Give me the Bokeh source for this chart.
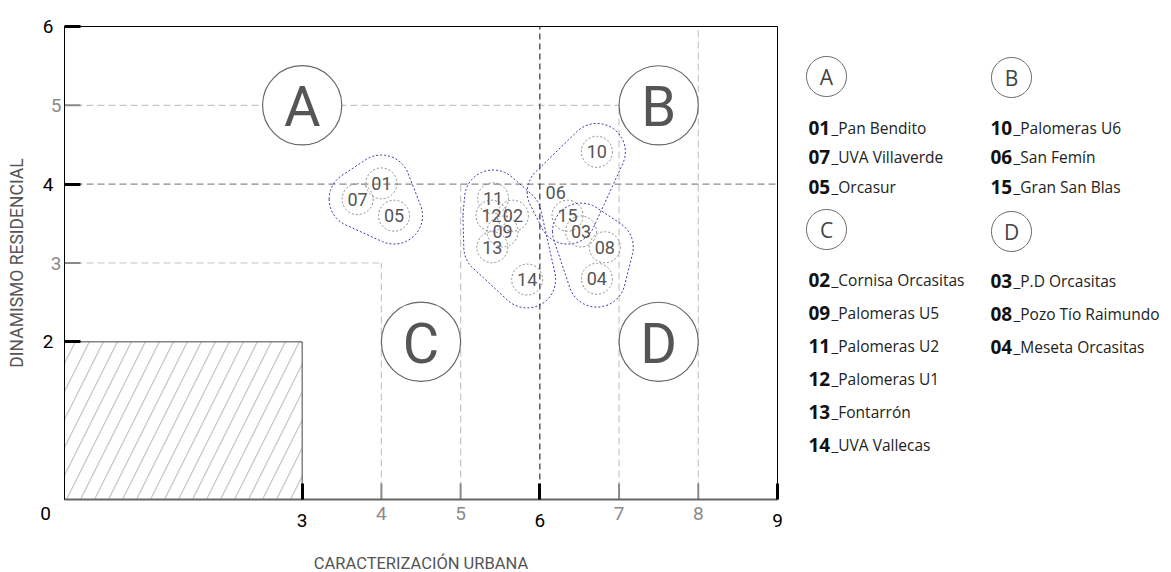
import numpy as np
from bokeh.plotting import figure
from bokeh.models import ColumnDataSource, Range1d, FixedTicker
from bokeh.core.properties import value
from bokeh.embed import file_html
from bokeh.resources import INLINE

# ---------------- data ----------------
point_codes = ["01", "07", "05", "11", "12", "02", "09", "13", "14", "06", "15", "10", "03", "08", "04"]
point_x = [4.00, 3.70, 4.16, 5.41, 5.39, 5.66, 5.53, 5.40, 5.84, 6.20, 6.35, 6.72, 6.52, 6.82, 6.72]
point_y = [4.01, 3.81, 3.60, 3.82, 3.60, 3.60, 3.40, 3.20, 2.79, 3.90, 3.60, 4.41, 3.40, 3.20, 2.80]
point_group = ["A", "A", "A", "C", "C", "C", "C", "C", "C", "B", "B", "B", "D", "D", "D"]
point_ring = [True, True, True, True, True, True, True, True, True, False, True, True, True, True, True]

region_labels = ["A", "B", "C", "D"]
region_x = [3.0, 7.5, 4.5, 7.5]
region_y = [5.0, 5.0, 2.0, 2.0]

# reference lines (x0, y0, x1, y1)
light_x0 = [0, 0, 4, 5, 7, 8]
light_y0 = [5, 3, 0, 0, 0, 0]
light_x1 = [7, 4, 4, 5, 7, 8]
light_y1 = [5, 3, 3, 4, 5, 6]
mid_line = (0, 4, 9, 4)
dark_line = (6, 0, 6, 6)

x_black_ticks = [3, 6, 9]
x_gray_ticks = [4, 5, 7, 8]
y_black_ticks = [2, 4, 6]
y_gray_ticks = [3, 5]

legend_A = [("01", "Pan Bendito"), ("07", "UVA Villaverde"), ("05", "Orcasur")]
legend_B = [("10", "Palomeras U6"), ("06", "San Femín"), ("15", "Gran San Blas")]
legend_C = [("02", "Cornisa Orcasitas"), ("09", "Palomeras U5"), ("11", "Palomeras U2"),
            ("12", "Palomeras U1"), ("13", "Fontarrón"), ("14", "UVA Vallecas")]
legend_D = [("03", "P.D Orcasitas"), ("08", "Pozo Tío Raimundo"), ("04", "Meseta Orcasitas")]

AXFONT = "Roboto"
LFONT = "Open Sans"

FW, FH = 713, 473          # frame size in px
X0, X1, Y0, Y1 = 0, 9, 0, 6
PX = FW / (X1 - X0)        # px per x unit
PY = FH / (Y1 - Y0)        # px per y unit


def convex_hull(pts):
    pts = sorted(set(pts))
    if len(pts) <= 2:
        return pts

    def cross(o, a, b):
        return (a[0] - o[0]) * (b[1] - o[1]) - (a[1] - o[1]) * (b[0] - o[0])

    lower, upper = [], []
    for q in pts:
        while len(lower) >= 2 and cross(lower[-2], lower[-1], q) <= 0:
            lower.pop()
        lower.append(q)
    for q in reversed(pts):
        while len(upper) >= 2 and cross(upper[-2], upper[-1], q) <= 0:
            upper.pop()
        upper.append(q)
    return lower[:-1] + upper[:-1]


def blob(xs, ys, r=0.36, n=60):
    t = np.linspace(0, 2 * np.pi, n, endpoint=False)
    pts = []
    for cx, cy in zip(xs, ys):
        for a in t:
            pts.append((round(cx + r * np.cos(a), 5), round(cy + r * np.sin(a), 5)))
    h = convex_hull(pts)
    return [q[0] for q in h], [q[1] for q in h]


# ---------------- main figure ----------------
p = figure(frame_width=FW, frame_height=FH,
           x_range=Range1d(X0, X1), y_range=Range1d(Y0, Y1),
           output_backend="svg", toolbar_location=None,
           min_border_left=64, min_border_top=26, min_border_right=394, min_border_bottom=10,
           x_axis_label="CARACTERIZACIÓN URBANA", y_axis_label="DINAMISMO RESIDENCIAL")
p.grid.visible = False
p.outline_line_color = "black"
p.outline_line_width = 1
p.background_fill_color = "white"
p.border_fill_color = "white"

xa = p.xaxis[0]
xa.ticker = FixedTicker(ticks=x_black_ticks)
xa.major_tick_in = 16
xa.major_tick_out = 0
xa.major_tick_line_width = 3
xa.major_tick_line_color = "black"
xa.minor_tick_line_color = None
xa.axis_line_color = "#666666"
xa.axis_line_width = 2
xa.major_label_text_font = AXFONT
xa.major_label_text_font_size = "19px"
xa.major_label_text_color = "black"
xa.major_label_standoff = 14
xa.axis_label_text_font = AXFONT
xa.axis_label_text_font_size = "16.5px"
xa.axis_label_text_font_style = "normal"
xa.axis_label_text_color = "#555555"
xa.axis_label_standoff = 24

ya = p.yaxis[0]
ya.ticker = FixedTicker(ticks=y_black_ticks)
ya.major_tick_in = 16
ya.major_tick_out = 0
ya.major_tick_line_width = 3
ya.major_tick_line_color = "black"
ya.minor_tick_line_color = None
ya.axis_line_color = "black"
ya.axis_line_width = 1
ya.major_label_text_font = AXFONT
ya.major_label_text_font_size = "19px"
ya.major_label_text_color = "black"
ya.major_label_standoff = 11
ya.axis_label_text_font = AXFONT
ya.axis_label_text_font_size = "17.5px"
ya.axis_label_text_font_style = "normal"
ya.axis_label_text_color = "#555555"
ya.axis_label_standoff = 13

# hatched area
p.quad(left=[0], right=[3], bottom=[0], top=[2], fill_color=None,
       line_color="#444444", line_width=1,
       hatch_pattern="/", hatch_color="#c8c8c8", hatch_scale=28, hatch_weight=1.3)

# reference lines
p.segment(x0=light_x0, y0=light_y0, x1=light_x1, y1=light_y1,
          line_color="#c6c6c6", line_width=1.2, line_dash="7 4")
p.segment(x0=[mid_line[0]], y0=[mid_line[1]], x1=[mid_line[2]], y1=[mid_line[3]],
          line_color="#8a8a8a", line_width=1.2, line_dash="7 4")
p.segment(x0=[dark_line[0]], y0=[dark_line[1]], x1=[dark_line[2]], y1=[dark_line[3]],
          line_color="#333333", line_width=1.2, line_dash="6 4")

# gray tick marks (16 px long, inside)
tick_len_x = 16 / PY
tick_len_y = 16 / PX
p.segment(x0=x_gray_ticks, y0=[0] * len(x_gray_ticks), x1=x_gray_ticks,
          y1=[tick_len_x] * len(x_gray_ticks), line_color="#8a8a8a", line_width=2)
p.segment(x0=[0] * len(y_gray_ticks), y0=y_gray_ticks, x1=[tick_len_y] * len(y_gray_ticks),
          y1=y_gray_ticks, line_color="#8a8a8a", line_width=2)

# group outlines
for g in ["A", "B", "C", "D"]:
    gx = [x for x, gg in zip(point_x, point_group) if gg == g]
    gy = [y for y, gg in zip(point_y, point_group) if gg == g]
    bx, by = blob(gx, gy)
    p.patch(bx, by, fill_color=None, line_color="#3a3ab0", line_width=1, line_dash="2 2")

# point rings and labels
ring_src = ColumnDataSource(dict(
    x=[x for x, r in zip(point_x, point_ring) if r],
    y=[y for y, r in zip(point_y, point_ring) if r]))
p.scatter("x", "y", source=ring_src, size=31, fill_color=None,
          line_color="#8a8a8a", line_width=1, line_dash="2 2")
pt_src = ColumnDataSource(dict(x=point_x, y=point_y, t=point_codes))
p.text("x", "y", text="t", source=pt_src, text_font=value("Roboto"),
       text_font_size="18px", text_color="#555555",
       text_align="center", text_baseline="middle")

# region circles
reg_src = ColumnDataSource(dict(x=region_x, y=region_y, t=region_labels))
p.circle("x", "y", radius=0.5, source=reg_src, fill_color="white",
         line_color="#666666", line_width=1.2)
p.text("x", "y", text="t", source=reg_src, text_font=value("Roboto"),
       text_font_size="56px", text_color="#555555",
       text_align="center", text_baseline="middle", y_offset=2)

# extra tick labels (outside frame)
p.text(x=x_gray_ticks, y=[0] * len(x_gray_ticks), text=[str(v) for v in x_gray_ticks],
       text_font=value(AXFONT), text_font_size="19px", text_color="#8a8a8a",
       text_align="center", text_baseline="middle", y_offset=14, level="overlay")
p.text(x=[0] * len(y_gray_ticks), y=y_gray_ticks, text=[str(v) for v in y_gray_ticks],
       text_font=value(AXFONT), text_font_size="19px", text_color="#8a8a8a",
       text_align="right", text_baseline="middle", x_offset=-3, level="overlay")
p.text(x=[0], y=[0], text=["0"], text_font=value(AXFONT), text_font_size="19px",
       text_color="black", text_align="center", text_baseline="middle",
       x_offset=-19, y_offset=14, level="overlay")

# ---------------- legend (right margin, px relative to frame top-left) ----------------
def dx(px):
    return X0 + px / PX


def dy(py):
    return Y1 - py / PY


col_text_px = [744, 926]
col_circ_px = [762, 947]
blocks = [
    (legend_A, 0, 50, 101, 29.5, "A"),
    (legend_B, 1, 51, 101, 29.5, "B"),
    (legend_C, 0, 203, 253, 33, "C"),
    (legend_D, 1, 205, 254, 33, "D"),
]
hx, hy, ht = [], [], []
nx, ny, nt, tx, tt = [], [], [], [], []
for entries, col, head_py, first_py, step, letter in blocks:
    hx.append(dx(col_circ_px[col])); hy.append(dy(head_py)); ht.append(letter)
    # legend ring drawn as an outline of radius 20 px
    ang = np.linspace(0, 2 * np.pi, 73)
    p.patch([dx(col_circ_px[col] + 20 * np.cos(a)) for a in ang],
            [dy(head_py + 20 * np.sin(a)) for a in ang],
            fill_color=None, line_color="#666666", line_width=1, level="overlay")
    for i, (code, name) in enumerate(entries):
        nx.append(dx(col_text_px[col])); ny.append(dy(first_py + i * step)); nt.append(code)
        tx.append(dx(col_text_px[col] + 23)); tt.append("_" + name)

p.text(hx, hy, text=ht, text_font=value(LFONT), text_font_size="21px",
       text_color="#444444", text_align="center", text_baseline="middle", level="overlay")
p.text(nx, ny, text=nt, text_font=value(LFONT), text_font_size="19px",
       text_font_style="bold", text_color="#111111", text_baseline="middle", level="overlay")
p.text(tx, ny, text=tt, text_font=value(LFONT), text_font_size="15.5px",
       text_color="#222222", text_baseline="middle", level="overlay")

open("out.html", "w").write(file_html(p, INLINE))
